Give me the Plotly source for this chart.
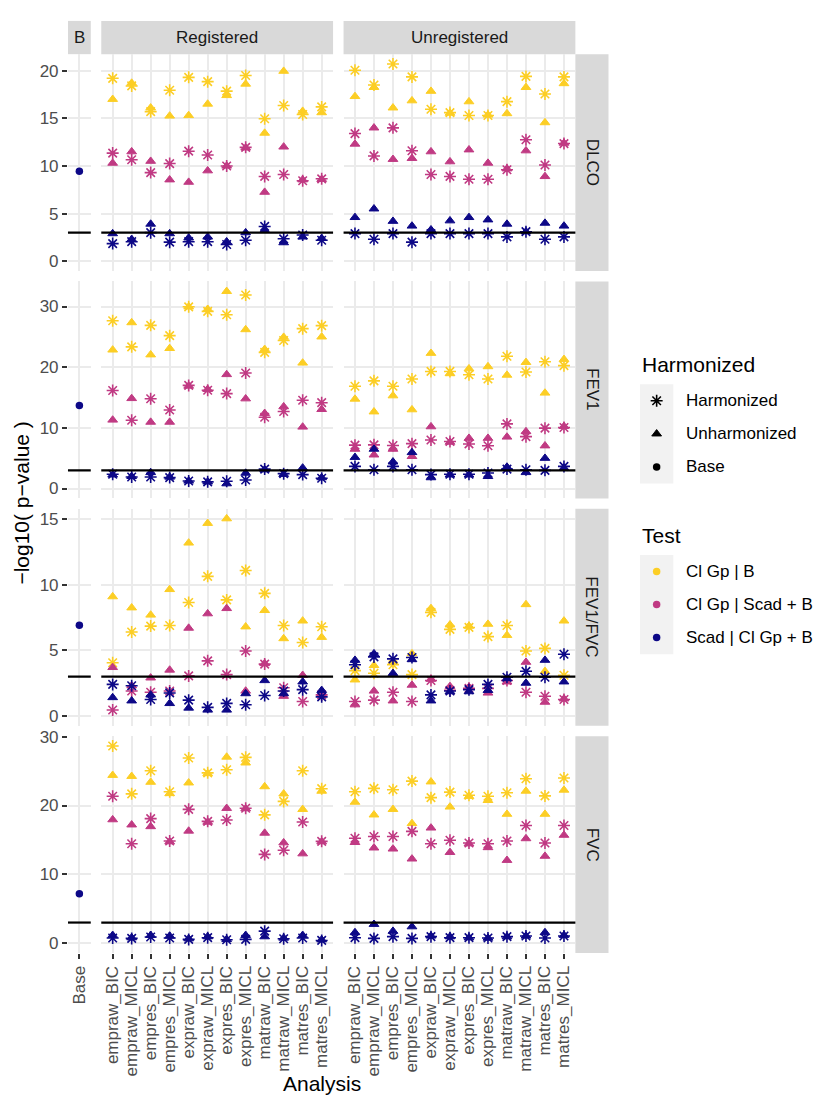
import numpy as np
import pandas as pd
import plotly.graph_objects as go

# ---------------------------------------------------------------- data
ANALYSES = ["empraw_BIC", "empraw_MICL", "empres_BIC", "empres_MICL",
            "expraw_BIC", "expraw_MICL", "expres_BIC", "expres_MICL",
            "matraw_BIC", "matraw_MICL", "matres_BIC", "matres_MICL"]
OUTCOMES = ["DLCO", "FEV1", "FEV1/FVC", "FVC"]
REGISTRATIONS = ["Registered", "Unregistered"]
TESTS = ["Cl Gp | B", "Cl Gp | Scad + B", "Scad | Cl Gp + B"]
HARMONIZED = ["Harmonized", "Unharmonized"]

# -log10(p) of the base model, one per outcome
BASE_VALUES = [9.45, 13.7, 6.92, 7.2]
THRESHOLD = -np.log10(0.001)

# DLCO, Registered
DLCO_REG_GPB_H = [19.2, 18.4, 15.7, 17.95, 19.3, 18.85, 17.85, 19.5, 14.95, 16.35, 15.4, 16.2]
DLCO_REG_GPB_U = [17.0, 18.7, 16.1, 15.25, 15.3, 16.5, 17.4, 18.6, 13.45, 19.95, 15.75, 15.6]
DLCO_REG_GPS_H = [11.35, 10.65, 9.3, 10.25, 11.55, 11.15, 10.0, 11.95, 8.9, 9.1, 8.45, 8.65]
DLCO_REG_GPS_U = [10.3, 11.5, 10.5, 8.55, 8.3, 9.5, 10.0, 11.9, 7.25, 12.0, 8.55, 8.6]
DLCO_REG_SCAD_H = [1.85, 2.05, 3.0, 2.0, 2.05, 2.05, 1.75, 2.2, 3.65, 2.35, 2.75, 2.2]
DLCO_REG_SCAD_U = [2.9, 2.3, 3.9, 2.9, 2.45, 2.55, 2.05, 3.0, 3.25, 1.95, 2.55, 2.4]
# DLCO, Unregistered
DLCO_UNR_GPB_H = [20.05, 18.5, 20.7, 19.35, 15.95, 15.6, 15.3, 15.3, 16.75, 19.4, 17.55, 19.35]
DLCO_UNR_GPB_U = [17.3, 18.25, 16.1, 16.85, 17.85, 15.55, 16.75, 15.35, 15.5, 18.25, 14.55, 18.65]
DLCO_UNR_GPS_H = [13.4, 11.05, 14.0, 11.6, 9.1, 8.9, 8.6, 8.6, 9.6, 12.75, 10.1, 12.35]
DLCO_UNR_GPS_U = [12.3, 14.0, 10.7, 10.8, 11.5, 10.45, 11.7, 10.3, 9.7, 11.6, 8.9, 12.4]
DLCO_UNR_SCAD_H = [2.9, 2.3, 2.9, 2.0, 2.9, 2.9, 2.9, 2.9, 2.55, 3.1, 2.3, 2.55]
DLCO_UNR_SCAD_U = [4.6, 5.5, 4.2, 3.7, 3.3, 4.25, 4.6, 4.35, 3.9, 3.1, 4.0, 3.7]

# FEV1, Registered
FEV1_REG_GPB_H = [27.65, 23.35, 26.9, 25.2, 29.95, 29.2, 28.65, 31.9, 22.45, 24.4, 26.35, 26.85]
FEV1_REG_GPB_U = [22.85, 27.35, 22.05, 23.1, 29.95, 29.55, 32.5, 26.2, 22.95, 24.95, 20.7, 25.0]
FEV1_REG_GPS_H = [16.15, 11.25, 14.8, 12.95, 17.0, 16.2, 15.65, 19.05, 11.75, 12.7, 14.55, 14.15]
FEV1_REG_GPS_U = [11.3, 14.85, 10.95, 10.95, 16.9, 16.35, 18.8, 14.8, 12.4, 13.5, 10.15, 13.05]
FEV1_REG_SCAD_H = [2.35, 1.9, 1.9, 1.8, 1.25, 1.1, 1.2, 1.4, 3.2, 2.45, 2.3, 1.7]
FEV1_REG_SCAD_U = [2.25, 2.0, 2.65, 1.9, 1.25, 1.1, 0.8, 2.55, 3.1, 2.35, 3.4, 1.8]
# FEV1, Unregistered
FEV1_UNR_GPB_H = [16.85, 17.75, 16.85, 18.05, 19.3, 19.3, 18.75, 18.05, 21.8, 19.2, 20.9, 20.25]
FEV1_UNR_GPB_U = [14.75, 12.65, 15.3, 13.0, 22.3, 18.95, 19.75, 20.1, 18.7, 20.8, 15.75, 21.3]
FEV1_UNR_GPS_H = [7.15, 7.2, 7.1, 7.4, 8.0, 7.75, 7.35, 7.05, 10.65, 8.55, 9.95, 10.05]
FEV1_UNR_GPS_U = [6.5, 5.55, 6.5, 5.3, 10.2, 7.65, 8.3, 8.3, 8.5, 9.4, 7.05, 10.25]
FEV1_UNR_SCAD_H = [3.65, 3.1, 3.65, 3.1, 2.3, 2.35, 2.35, 2.55, 3.2, 3.1, 3.0, 3.65]
FEV1_UNR_SCAD_U = [5.15, 6.5, 4.4, 5.95, 1.8, 2.25, 2.25, 2.0, 3.55, 2.65, 5.0, 3.4]

# FEV1/FVC, Registered
RATIO_REG_GPB_H = [4.05, 6.4, 6.85, 6.9, 8.65, 10.65, 8.85, 11.1, 9.35, 6.9, 5.6, 6.8]
RATIO_REG_GPB_U = [9.1, 8.25, 7.7, 9.65, 13.2, 14.7, 15.05, 6.8, 8.05, 5.9, 7.25, 6.0]
RATIO_REG_GPS_H = [0.45, 1.9, 1.8, 1.9, 3.05, 4.2, 3.15, 4.95, 3.95, 2.15, 1.1, 1.6]
RATIO_REG_GPS_U = [3.7, 2.3, 2.9, 3.5, 6.7, 7.8, 8.2, 1.9, 4.0, 1.5, 3.1, 1.65]
RATIO_REG_SCAD_H = [2.4, 2.3, 1.25, 1.75, 1.2, 0.65, 0.95, 0.85, 1.55, 1.9, 2.0, 1.45]
RATIO_REG_SCAD_U = [1.4, 1.15, 1.6, 0.95, 0.6, 0.45, 0.45, 1.7, 2.7, 1.7, 2.6, 1.95]
# FEV1/FVC, Unregistered
RATIO_UNR_GPB_H = [3.45, 3.25, 3.9, 3.15, 7.9, 6.6, 6.75, 6.05, 6.9, 4.95, 5.15, 3.1]
RATIO_UNR_GPB_U = [2.75, 3.85, 4.15, 4.75, 8.2, 6.95, 6.85, 7.0, 6.15, 8.5, 3.4, 7.25]
RATIO_UNR_GPS_H = [1.1, 1.2, 1.8, 1.1, 2.7, 1.95, 2.1, 2.1, 2.7, 1.8, 1.5, 1.25]
RATIO_UNR_GPS_U = [0.85, 1.9, 1.15, 2.35, 2.8, 2.25, 2.2, 1.75, 2.6, 4.1, 1.05, 1.3]
RATIO_UNR_SCAD_H = [3.9, 4.5, 4.35, 4.45, 1.6, 1.9, 2.0, 2.4, 2.95, 3.4, 2.95, 4.7]
RATIO_UNR_SCAD_U = [4.25, 4.75, 3.25, 4.3, 1.15, 1.85, 1.85, 1.95, 2.85, 2.5, 4.25, 2.6]

# FVC, Registered
FVC_REG_GPB_H = [28.65, 21.7, 25.05, 22.0, 26.9, 24.75, 25.2, 27.0, 18.65, 20.6, 25.05, 22.45]
FVC_REG_GPB_U = [24.4, 24.25, 23.4, 21.75, 23.3, 24.65, 27.05, 26.2, 22.75, 21.7, 19.45, 22.1]
FVC_REG_GPS_H = [21.35, 14.45, 18.1, 14.85, 19.45, 17.7, 17.9, 19.6, 12.9, 13.5, 17.6, 14.8]
FVC_REG_GPS_U = [17.95, 17.2, 16.95, 14.75, 16.3, 17.6, 19.6, 19.55, 16.0, 14.6, 13.0, 14.75]
FVC_REG_SCAD_H = [0.75, 0.7, 0.9, 0.75, 0.55, 0.8, 0.5, 0.55, 1.75, 0.65, 0.75, 0.4]
FVC_REG_SCAD_U = [1.15, 0.8, 1.15, 1.05, 0.65, 0.95, 0.55, 1.15, 0.95, 0.75, 1.15, 0.5]
# FVC, Unregistered
FVC_UNR_GPB_H = [22.0, 22.5, 22.3, 23.55, 21.15, 21.95, 21.5, 21.35, 21.85, 23.9, 21.4, 24.0]
FVC_UNR_GPB_U = [20.5, 18.65, 19.45, 17.4, 23.45, 19.8, 21.35, 20.75, 18.75, 22.1, 18.75, 22.25]
FVC_UNR_GPS_H = [15.25, 15.5, 15.5, 16.25, 14.45, 14.95, 14.55, 14.45, 14.85, 17.1, 14.55, 17.1]
FVC_UNR_GPS_U = [14.65, 13.85, 13.7, 12.25, 16.75, 13.2, 14.45, 13.9, 12.05, 15.2, 12.65, 15.7]
FVC_UNR_SCAD_H = [0.8, 0.7, 0.95, 0.7, 0.95, 0.8, 0.8, 0.75, 0.95, 1.05, 0.75, 1.05]
FVC_UNR_SCAD_U = [1.55, 2.75, 1.75, 2.4, 1.05, 0.95, 0.8, 0.75, 0.95, 1.05, 1.55, 1.15]

# (outcome, registration) -> [test][harmonized]
PANEL_SERIES = {
    ("DLCO", "Registered"): [[DLCO_REG_GPB_H, DLCO_REG_GPB_U], [DLCO_REG_GPS_H, DLCO_REG_GPS_U], [DLCO_REG_SCAD_H, DLCO_REG_SCAD_U]],
    ("DLCO", "Unregistered"): [[DLCO_UNR_GPB_H, DLCO_UNR_GPB_U], [DLCO_UNR_GPS_H, DLCO_UNR_GPS_U], [DLCO_UNR_SCAD_H, DLCO_UNR_SCAD_U]],
    ("FEV1", "Registered"): [[FEV1_REG_GPB_H, FEV1_REG_GPB_U], [FEV1_REG_GPS_H, FEV1_REG_GPS_U], [FEV1_REG_SCAD_H, FEV1_REG_SCAD_U]],
    ("FEV1", "Unregistered"): [[FEV1_UNR_GPB_H, FEV1_UNR_GPB_U], [FEV1_UNR_GPS_H, FEV1_UNR_GPS_U], [FEV1_UNR_SCAD_H, FEV1_UNR_SCAD_U]],
    ("FEV1/FVC", "Registered"): [[RATIO_REG_GPB_H, RATIO_REG_GPB_U], [RATIO_REG_GPS_H, RATIO_REG_GPS_U], [RATIO_REG_SCAD_H, RATIO_REG_SCAD_U]],
    ("FEV1/FVC", "Unregistered"): [[RATIO_UNR_GPB_H, RATIO_UNR_GPB_U], [RATIO_UNR_GPS_H, RATIO_UNR_GPS_U], [RATIO_UNR_SCAD_H, RATIO_UNR_SCAD_U]],
    ("FVC", "Registered"): [[FVC_REG_GPB_H, FVC_REG_GPB_U], [FVC_REG_GPS_H, FVC_REG_GPS_U], [FVC_REG_SCAD_H, FVC_REG_SCAD_U]],
    ("FVC", "Unregistered"): [[FVC_UNR_GPB_H, FVC_UNR_GPB_U], [FVC_UNR_GPS_H, FVC_UNR_GPS_U], [FVC_UNR_SCAD_H, FVC_UNR_SCAD_U]],
}

records = []
for (outcome, reg), per_test in PANEL_SERIES.items():
    for test, per_harm in zip(TESTS, per_test):
        for harm, values in zip(HARMONIZED, per_harm):
            for analysis, v in zip(ANALYSES, values):
                records.append(dict(outcome=outcome, registration=reg, test=test,
                                    harmonized=harm, analysis=analysis, value=v))
df = pd.DataFrame(records)

# ---------------------------------------------------------------- styling
W, H = 814, 1096
FONT = "Liberation Sans, Arial, Helvetica, sans-serif"
TEST_COLORS = {TESTS[0]: "#FCCE25", TESTS[1]: "#C03A83", TESTS[2]: "#0D0887"}
STRIP_FILL = "#D9D9D9"
GRID = "#EBEBEB"
KEY_FILL = "#F2F2F2"
TICK_FONT = dict(family=FONT, size=17, color="#4D4D4D")


def marker_style(harm, color):
    if harm == "Harmonized":
        return dict(symbol="asterisk-open", size=10, color=color,
                    line=dict(color=color, width=1.6))
    if harm == "Unharmonized":
        return dict(symbol="triangle-up", size=8.5, color=color,
                    line=dict(color=color, width=1))
    return dict(symbol="circle", size=7.5, color=color, line=dict(width=0))


def axis_id(n):
    """Plotly axis suffix: '' for the first axis, else the number."""
    return "" if n == 1 else str(n)


# panel frames in pixels (left, right) / (top, bottom)
COL_PX = [(67.97, 90.77), (101.27, 333.07), (343.57, 575.37)]
ROW_PX = [(46.5, 265.0), (275.5, 494.0), (504.5, 723.0), (733.5, 952.0)]
STRIP_TOP = (13.0, 46.5)
STRIP_RIGHT = (575.37, 608.5)
DTICKS = [5, 10, 5, 10]


def fx(px):
    return px / W


def fy(px):
    return 1 - px / H


fig = go.Figure()
layout = dict(
    width=W, height=H,
    margin=dict(l=0, r=0, t=0, b=0, pad=0),
    paper_bgcolor="white", plot_bgcolor="rgba(0,0,0,0)",
    showlegend=False, font=dict(family=FONT, color="black"),
)
shapes, annotations = [], []

for r, outcome in enumerate(OUTCOMES):
    row_vals = df.loc[df.outcome == outcome, "value"].tolist() + [BASE_VALUES[r]]
    hi, lo = max(row_vals), 0.0
    pad = 0.05 * (hi - lo)
    yrange = [lo - pad, hi + pad]
    for c in range(3):
        sfx = axis_id(r * 3 + c + 1)
        xref, yref = f"x{sfx}", f"y{sfx}"
        cats = ["Base"] if c == 0 else ANALYSES
        bottom = r == len(OUTCOMES) - 1
        layout[f"xaxis{sfx}"] = dict(
            domain=[fx(COL_PX[c][0]), fx(COL_PX[c][1])], anchor=yref,
            type="category", categoryorder="array", categoryarray=cats,
            range=[-0.6, len(cats) - 0.4], fixedrange=True,
            showgrid=True, gridcolor=GRID, gridwidth=2.4, zeroline=False, showline=False,
            tickmode="array", tickvals=cats, ticktext=cats,
            showticklabels=bottom, ticks="outside" if bottom else "",
            ticklen=5, tickwidth=2, tickcolor="#333333", tickangle=-90, tickfont=TICK_FONT,
        )
        layout[f"yaxis{sfx}"] = dict(
            domain=[fy(ROW_PX[r][1]), fy(ROW_PX[r][0])], anchor=xref,
            range=yrange, fixedrange=True, tick0=0, dtick=DTICKS[r],
            showgrid=True, gridcolor=GRID, gridwidth=2.4, zeroline=False, showline=False,
            showticklabels=(c == 0), ticks="outside" if c == 0 else "",
            ticklen=5, tickwidth=2, tickcolor="#333333", tickfont=TICK_FONT,
        )

        if c == 0:
            fig.add_trace(go.Scatter(
                x=["Base"], y=[BASE_VALUES[r]], mode="markers", xaxis=xref, yaxis=yref,
                marker=marker_style("Base", TEST_COLORS[TESTS[2]]), hoverinfo="y"))
        else:
            reg = REGISTRATIONS[c - 1]
            sub = df[(df.outcome == outcome) & (df.registration == reg)]
            for test in TESTS:
                for harm in HARMONIZED:
                    s = sub[(sub.test == test) & (sub.harmonized == harm)]
                    fig.add_trace(go.Scatter(
                        x=s.analysis, y=s.value, mode="markers", xaxis=xref, yaxis=yref,
                        marker=marker_style(harm, TEST_COLORS[test]),
                        name=f"{test} / {harm}", hoverinfo="x+y+name"))

        # significance threshold p = 0.001
        shapes.append(dict(type="line", xref=f"{xref} domain", yref=yref,
                           x0=0, x1=1, y0=THRESHOLD, y1=THRESHOLD,
                           line=dict(color="black", width=2.2)))

# facet strips
strip_font = dict(family=FONT, size=17, color="#1A1A1A")
for c, label in enumerate(["B"] + REGISTRATIONS):
    x0, x1 = COL_PX[c]
    shapes.append(dict(type="rect", xref="paper", yref="paper", layer="below",
                       x0=fx(x0), x1=fx(x1), y0=fy(STRIP_TOP[1]), y1=fy(STRIP_TOP[0]),
                       fillcolor=STRIP_FILL, line=dict(width=0)))
    annotations.append(dict(xref="paper", yref="paper", x=fx((x0 + x1) / 2),
                            y=fy(sum(STRIP_TOP) / 2), text=label, showarrow=False,
                            font=strip_font, xanchor="center", yanchor="middle"))
for r, label in enumerate(OUTCOMES):
    y0, y1 = ROW_PX[r]
    shapes.append(dict(type="rect", xref="paper", yref="paper", layer="below",
                       x0=fx(STRIP_RIGHT[0]), x1=fx(STRIP_RIGHT[1]), y0=fy(y1), y1=fy(y0),
                       fillcolor=STRIP_FILL, line=dict(width=0)))
    annotations.append(dict(xref="paper", yref="paper", x=fx(sum(STRIP_RIGHT) / 2),
                            y=fy((y0 + y1) / 2), text=label, showarrow=False, textangle=90,
                            font=strip_font, xanchor="center", yanchor="middle"))

# axis titles, centred on the panel area
title_font = dict(family=FONT, size=21, color="black")
annotations.append(dict(xref="paper", yref="paper", x=fx((COL_PX[0][0] + COL_PX[-1][1]) / 2),
                        y=fy(1083), text="Analysis", showarrow=False, font=title_font,
                        xanchor="center", yanchor="middle"))
annotations.append(dict(xref="paper", yref="paper", x=fx(22),
                        y=fy((ROW_PX[0][0] + ROW_PX[-1][1]) / 2), text="\u2212log10( p\u2212value )",
                        showarrow=False, textangle=-90, font=title_font,
                        xanchor="center", yanchor="middle"))

# legends, laid out on a full-page pixel axis
LEG = 13
layout[f"xaxis{LEG}"] = dict(domain=[0, 1], anchor=f"y{LEG}", range=[0, W], visible=False, fixedrange=True)
layout[f"yaxis{LEG}"] = dict(domain=[0, 1], anchor=f"x{LEG}", range=[H, 0], visible=False, fixedrange=True)

KEY_X0, KEY_W, KEY_H = 640.0, 33.3, 33.3
legend_groups = [
    ("Harmonized", 359.0, 379.0,
     [(h, marker_style(h, "black")) for h in HARMONIZED + ["Base"]]),
    ("Test", 531.5, 551.0,
     [(t, marker_style("Base", TEST_COLORS[t])) for t in TESTS]),
]
item_font = dict(family=FONT, size=17, color="black")
for title, title_y, keys_top, items in legend_groups:
    annotations.append(dict(xref="paper", yref="paper", x=fx(KEY_X0), y=fy(title_y),
                            text=title, showarrow=False, font=title_font,
                            xanchor="left", yanchor="middle"))
    shapes.append(dict(type="rect", xref="paper", yref="paper", layer="below",
                       x0=fx(KEY_X0), x1=fx(KEY_X0 + KEY_W),
                       y0=fy(keys_top + KEY_H * len(items)), y1=fy(keys_top),
                       fillcolor=KEY_FILL, line=dict(width=0)))
    for i, (label, style) in enumerate(items):
        cy = keys_top + KEY_H * (i + 0.5)
        fig.add_trace(go.Scatter(x=[KEY_X0 + KEY_W / 2], y=[cy], mode="markers",
                                 xaxis=f"x{LEG}", yaxis=f"y{LEG}", marker=style,
                                 hoverinfo="skip"))
        annotations.append(dict(xref="paper", yref="paper", x=fx(684), y=fy(cy),
                                text=label, showarrow=False, font=item_font,
                                xanchor="left", yanchor="middle"))

layout["shapes"] = shapes
layout["annotations"] = annotations
fig.update_layout(**layout)
fig.write_html("out.html")
